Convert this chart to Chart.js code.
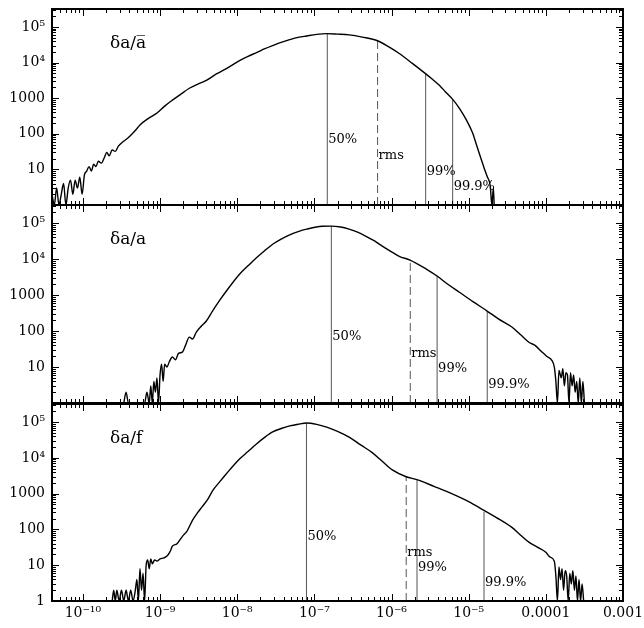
<!DOCTYPE html>
<html>
<head>
<meta charset="utf-8">
<script src="https://cdn.jsdelivr.net/npm/chart.js@4.4.1/dist/chart.umd.min.js"></script>
<style>
  body { margin: 0; background: #fff; }
  #wrap { position: relative; width: 644px; height: 628px; }
  canvas { position: absolute; left: 0; }
</style>
</head>
<body>
<div id="wrap">
  <canvas id="c1" width="644" height="206" style="top:0px"></canvas>
  <canvas id="c2" width="644" height="208" style="top:196px"></canvas>
  <canvas id="c3" width="644" height="233" style="top:395px"></canvas>
</div>
<script>
// axis ticks
const xTickValues = [1e-10, 1e-9, 1e-8, 1e-7, 1e-6, 1e-5, 1e-4, 1e-3];
const xTickLabels = ['10⁻¹⁰', '10⁻⁹', '10⁻⁸', '10⁻⁷', '10⁻⁶', '10⁻⁵', '0.0001', '0.001'];
const yTickValues = [1, 10, 100, 1000, 1e4, 1e5];
const yTickLabels = ['1', '10', '100', '1000', '10⁴', '10⁵'];

// panel 1: da / a-bar  (log10 of bin, counts)
const exp1 = [-10.40, -10.37, -10.34, -10.31, -10.28, -10.25, -10.22, -10.19, -10.16, -10.13, -10.10, -10.07, -10.04, -10.01,
  -9.98, -9.95, -9.92, -9.89, -9.86, -9.83, -9.80, -9.76, -9.72, -9.69, -9.66, -9.62, -9.58, -9.54, -9.48, -9.42, -9.36,
  -9.30, -9.26, -9.15, -9.04, -8.94, -8.84, -8.73, -8.62, -8.51, -8.40, -8.27, -8.14, -7.97, -7.86, -7.75, -7.64, -7.54,
  -7.43, -7.32, -7.21, -7.10, -6.97, -6.84, -6.70, -6.55, -6.38, -6.18, -6.04, -5.90, -5.73, -5.56, -5.47, -5.38, -5.30,
  -5.21, -5.12, -5.03, -4.95, -4.90, -4.84, -4.80, -4.76, -4.72, -4.70, -4.68, -4.67];
const counts1 = [2, 1, 3, 1, 2, 4, 1, 3, 5, 2, 5, 3, 6, 2,
  7, 9, 12, 9, 14, 12, 17, 15, 22, 30, 24, 35, 32, 45, 60, 75, 100,
  140, 178, 270, 384, 600, 880, 1300, 1900, 2500, 3160, 4800, 6800, 11400, 15000, 19000, 24500, 30000,
  37000, 44000, 51000, 56000, 62000, 65000, 63000, 60000, 52000, 41000, 28000, 18000, 9500, 4900, 3400, 2300, 1500,
  940, 520, 245, 107, 50, 20, 11, 6.3, 3.4, 1, 3, 1];

// panel 2: da / a
const exp2 = [-9.47, -9.44, -9.41, -9.20, -9.17, -9.14, -9.12, -9.10, -9.08, -9.06, -9.04, -9.02, -9.00, -8.98, -8.96,
  -8.94, -8.91, -8.88, -8.84, -8.80, -8.76, -8.71, -8.67, -8.62, -8.58, -8.53, -8.46, -8.40, -8.32, -8.23, -8.14, -7.97,
  -7.86, -7.75, -7.64, -7.54, -7.43, -7.32, -7.21, -7.10, -6.90, -6.78, -6.66, -6.55, -6.44, -6.33, -6.22, -6.12, -6.00,
  -5.90, -5.76, -5.55, -5.41, -5.27, -5.12, -4.94, -4.76, -4.61, -4.44, -4.33, -4.22, -4.14, -4.05, -3.99, -3.92, -3.89,
  -3.87, -3.85, -3.83, -3.80, -3.78, -3.76, -3.74, -3.72, -3.70, -3.68, -3.66, -3.64, -3.62, -3.60, -3.58, -3.56, -3.54,
  -3.52, -3.50];
const counts2 = [1, 2, 1, 1, 2, 1, 3, 1, 4, 2, 5, 1, 6, 12, 4,
  12, 10, 14, 19, 16, 24, 26, 40, 68, 60, 94, 140, 190, 360, 700, 1300, 3800,
  6500, 11000, 17500, 26000, 36000, 47000, 58000, 68000, 82000, 83000, 78000, 68000, 56000, 43000, 32000, 23000, 16000,
  12000, 9400, 5300, 3400, 2000, 1200, 650, 360, 215, 130, 80, 49, 40, 26, 20, 15, 10,
  4, 1, 8, 5, 9, 3, 7, 6, 1, 7, 3, 6, 2, 4, 1, 5, 1,
  4, 1];

// panel 3: da / f
const exp3 = [-9.62, -9.60, -9.58, -9.56, -9.53, -9.50, -9.47, -9.44, -9.41, -9.38, -9.35, -9.32, -9.30, -9.28, -9.26,
  -9.24, -9.22, -9.20, -9.18, -9.16, -9.14, -9.12, -9.10, -9.07, -9.04, -9.00, -8.95, -8.91, -8.87, -8.84, -8.78, -8.71,
  -8.65, -8.58, -8.52, -8.45, -8.38, -8.32, -8.23, -8.14, -7.97, -7.86, -7.75, -7.64, -7.54, -7.43, -7.32, -7.21, -7.10,
  -6.97, -6.84, -6.70, -6.55, -6.40, -6.25, -6.12, -5.99, -5.81, -5.67, -5.45, -5.25, -5.00, -4.80, -4.64, -4.44, -4.33,
  -4.22, -4.11, -4.00, -3.95, -3.89, -3.87, -3.85, -3.83, -3.81, -3.79, -3.77, -3.75, -3.73, -3.71, -3.69, -3.67, -3.65,
  -3.63, -3.61, -3.59, -3.57, -3.55, -3.53, -3.51];
const counts3 = [1, 2, 1, 2, 1, 2, 1, 2, 1, 2, 1, 2, 4, 1, 8,
  2, 6, 1, 10, 14, 8, 15, 11, 14, 13, 15, 16, 18, 24, 34, 40, 64,
  90, 178, 280, 440, 700, 1200, 2100, 3600, 9300, 15000, 24500, 38000, 53000, 66000, 78000, 87000, 94000,
  86000, 72000, 55000, 38000, 23000, 14000, 8000, 4600, 2970, 2460, 1600, 1070, 600, 340, 215, 114, 70,
  44, 32, 23, 17, 13, 5, 1, 9, 4, 8, 2, 7, 5, 1, 6, 3, 7,
  2, 5, 1, 4, 1, 3, 1];

// percentile / rms markers
const markerNames = ['50%', 'rms', '99%', '99.9%'];
const markerX1 = [1.47e-7, 6.6e-7, 2.77e-6, 6.2e-6];
const markerTop1 = [65000, 41000, 4900, 940];
const labelY1 = [68, 24.5, 8.8, 3.2];
const markerX2 = [1.66e-7, 1.75e-6, 3.9e-6, 1.74e-5];
const markerTop2 = [83000, 9400, 3400, 360];
const labelY2 = [72, 23, 8.8, 3.2];
const markerX3 = [7.9e-8, 1.55e-6, 2.14e-6, 1.58e-5];
const markerTop3 = [94000, 2970, 2460, 316];
const labelY3 = [64, 23, 8.8, 3.3];

const panelTitles = ['δa/a̅', 'δa/a', 'δa/f'];

const X_MIN = 3.98e-11, X_MAX = 1e-3, Y_MIN = 1, Y_MAX = 3.2e5;
const FONT = '"DejaVu Serif", serif';

// frame, inward ticks, marker labels and panel title
const decorPlugin = {
  id: 'decor',
  afterDraw(chart, args, opts) {
    const ctx = chart.ctx, a = chart.chartArea, xs = chart.scales.x, ys = chart.scales.y;
    ctx.save();
    ctx.strokeStyle = '#000';
    ctx.lineWidth = 1;
    ctx.beginPath();
    for (let k = -11; k <= -3; k++) {
      for (let m = 1; m <= 9; m++) {
        const v = m * Math.pow(10, k);
        if (v < X_MIN || v > X_MAX * 1.0001) continue;
        const px = Math.round(xs.getPixelForValue(v)) + 0.5;
        const len = m === 1 ? 7 : 4;
        ctx.moveTo(px, a.bottom); ctx.lineTo(px, a.bottom - len);
        ctx.moveTo(px, a.top); ctx.lineTo(px, a.top + len);
      }
    }
    for (let k = 0; k <= 5; k++) {
      for (let m = 1; m <= 9; m++) {
        const v = m * Math.pow(10, k);
        if (v < Y_MIN || v > Y_MAX) continue;
        const py = Math.round(ys.getPixelForValue(v)) + 0.5;
        const len = m === 1 ? 7 : 4;
        ctx.moveTo(a.left, py); ctx.lineTo(a.left + len, py);
        ctx.moveTo(a.right, py); ctx.lineTo(a.right - len, py);
      }
    }
    ctx.stroke();

    ctx.lineWidth = 2;
    ctx.strokeRect(a.left, a.top, a.right - a.left, a.bottom - a.top);

    ctx.fillStyle = '#000';
    ctx.font = '13px ' + FONT;
    ctx.textAlign = 'left';
    ctx.textBaseline = 'middle';
    opts.markerX.forEach((mx, i) => {
      ctx.fillText(markerNames[i], xs.getPixelForValue(mx) + 1, ys.getPixelForValue(opts.labelY[i]));
    });

    ctx.font = '17px ' + FONT;
    ctx.fillText(opts.title, a.left + 58, a.top + 35);
    ctx.restore();
  }
};

function makePanel(id, exps, counts, markerX, markerTop, labelY, title, showX, yTicks) {
  const hist = exps.map((e, i) => ({ x: Math.pow(10, e), y: counts[i] }));
  const datasets = [{
    data: hist,
    borderColor: '#000',
    borderWidth: 1.4,
    pointRadius: 0,
    cubicInterpolationMode: 'monotone'
  }];
  markerX.forEach((mx, i) => {
    datasets.push({
      data: [{ x: mx, y: Y_MIN }, { x: mx, y: markerTop[i] }],
      borderColor: '#555',
      borderWidth: 1,
      borderDash: markerNames[i] === 'rms' ? [8, 4] : [],
      pointRadius: 0
    });
  });

  new Chart(document.getElementById(id), {
    type: 'line',
    data: { datasets },
    options: {
      responsive: false,
      animation: false,
      devicePixelRatio: 1,
      layout: { padding: { top: 9, right: 21, left: 0, bottom: 0 } },
      plugins: {
        legend: { display: false },
        tooltip: { enabled: false },
        decor: { markerX, labelY, title }
      },
      scales: {
        x: {
          type: 'logarithmic',
          min: X_MIN,
          max: X_MAX,
          grid: { display: false, drawTicks: false },
          border: { display: false },
          ticks: {
            display: showX,
            padding: 4,
            maxRotation: 0,
            autoSkip: false,
            color: '#000',
            font: { family: FONT, size: 14 },
            callback: (v) => xTickLabels[xTickValues.indexOf(v)]
          },
          afterBuildTicks: (s) => { s.ticks = xTickValues.map(v => ({ value: v })); },
          afterFit: (s) => { s.height = showX ? 27 : 1; s.paddingLeft = 0; s.paddingRight = 0; }
        },
        y: {
          type: 'logarithmic',
          min: Y_MIN,
          max: Y_MAX,
          grid: { display: false, drawTicks: false },
          border: { display: false },
          ticks: {
            padding: 7,
            color: '#000',
            font: { family: FONT, size: 14 },
            callback: (v) => yTickLabels[yTickValues.indexOf(v)]
          },
          afterBuildTicks: (s) => { s.ticks = yTicks.map(v => ({ value: v })); },
          afterFit: (s) => { s.width = 52; s.paddingTop = 0; s.paddingBottom = 0; }
        }
      }
    },
    plugins: [decorPlugin]
  });
}

makePanel('c1', exp1, counts1, markerX1, markerTop1, labelY1, panelTitles[0], false, [10, 100, 1000, 1e4, 1e5]);
makePanel('c2', exp2, counts2, markerX2, markerTop2, labelY2, panelTitles[1], false, [10, 100, 1000, 1e4, 1e5]);
makePanel('c3', exp3, counts3, markerX3, markerTop3, labelY3, panelTitles[2], true, yTickValues);
</script>
</body>
</html>
